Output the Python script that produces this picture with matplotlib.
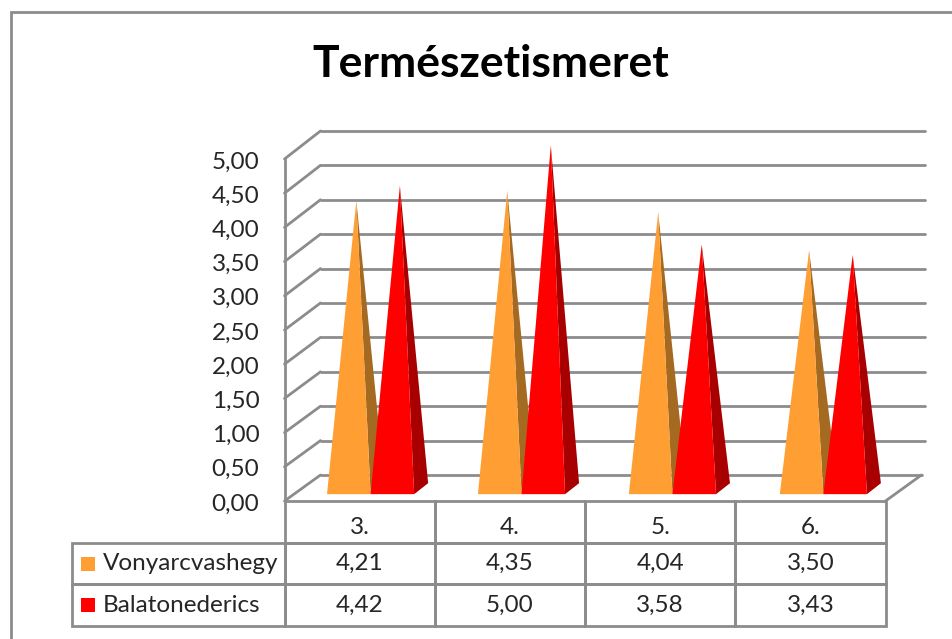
import matplotlib
matplotlib.use('Agg')
import matplotlib.pyplot as plt
from matplotlib.patches import Polygon, Rectangle
from matplotlib.transforms import ScaledTranslation

plt.rcParams['font.family'] = ['Lato', 'DejaVu Sans']

W, H = 952, 639

categories = ['3.', '4.', '5.', '6.']
series_names = ['Vonyarcvashegy', 'Balatonederics']
vonyarc = [4.21, 4.35, 4.04, 3.50]
balaton = [4.42, 5.00, 3.58, 3.43]
yticks = [0, 0.5, 1, 1.5, 2, 2.5, 3, 3.5, 4, 4.5, 5]

front_colors = ['#FF9F33', '#FF0000']
side_colors = ['#A56A22', '#A80000']
grey = '#8C8C8C'
text_col = '#262626'


def comma(v):
    return '{:.2f}'.format(v).replace('.', ',')


fig = plt.figure(figsize=(W / 100, H / 100), dpi=100, facecolor='white')

# outer frame, runs off the right and bottom of the picture
fig.add_artist(Rectangle((11 / W, -0.05), (W - 10) / W, (H - 12) / H + 0.05,
                         transform=fig.transFigure, fill=False,
                         edgecolor=grey, linewidth=2.0))

# axes = front plane of the 3D box, x in categories, y in values
left, right, top, bottom = 284.5, 885.5, 159, 501
ax = fig.add_axes([left / W, 1 - bottom / H, (right - left) / W, (bottom - top) / H])
ax.set_xlim(0, 4)
ax.set_ylim(0, 5)
for s in ax.spines.values():
    s.set_visible(False)
ax.patch.set_alpha(0)
ax.set_xticks([])
ax.set_yticks(yticks)
ax.set_yticklabels([comma(v) for v in yticks], fontsize=17.5, color=text_col)
ax.tick_params(axis='y', length=0, pad=18)
# nudge the tick labels down a pixel
for lab in ax.get_yticklabels():
    lab.set_transform(lab.get_transform() + ScaledTranslation(0, -1 / 100, fig.dpi_scale_trans))

# depth of the box in data units
depth_x = 36 / 150.25
floor_dy = 26 / 68.4
wall_k = 1.006

line_kw = dict(color=grey, lw=2.0, clip_on=False, solid_capstyle='round')
for v in yticks:
    yb = floor_dy + v * wall_k
    ax.plot([0, depth_x], [v, yb], zorder=1, **line_kw)
    ax.plot([depth_x, 4 + depth_x + (0.02 if v else 0)], [yb, yb], zorder=1, **line_kw)
ax.plot([0, 0], [0, 5], zorder=1, **line_kw)
ax.plot([4, 4 + depth_x], [0, floor_dy], zorder=1, **line_kw)

# pyramids
base_w = 0.29
base_y = 0.10
back_x = 0.093
back_y = 0.16
apex_dx = 0.195
height_k = 1.02
offsets = [0.283, 0.573]

for i in range(len(categories)):
    for j, vals in enumerate([vonyarc, balaton]):
        x0 = i * 1.0045 + offsets[j]
        x1 = x0 + base_w
        apex = (x0 + apex_dx, base_y + vals[i] * height_k)
        ax.add_patch(Polygon([(x1, base_y), (x1 + back_x, base_y + back_y), apex],
                             closed=True, facecolor=side_colors[j], edgecolor='none',
                             clip_on=False, zorder=2 + j))
        ax.add_patch(Polygon([(x0, base_y), (x1, base_y), apex],
                             closed=True, facecolor=front_colors[j], edgecolor='none',
                             clip_on=False, zorder=2 + j))

# data table under the plot
row_h = 41.7 / 68.4
label_w = 212.5 / 150.25
cell_text = [[''] * 5,
             [series_names[0]] + [comma(v) for v in vonyarc],
             [series_names[1]] + [comma(v) for v in balaton]]
x_to_axes = 1 / 4
y_to_axes = 1 / 5
tab = ax.table(cellText=cell_text,
               colWidths=[label_w * x_to_axes] + [x_to_axes] * 4,
               bbox=[-label_w * x_to_axes, -3 * row_h * y_to_axes,
                     1 + label_w * x_to_axes, 3 * row_h * y_to_axes],
               cellLoc='center')
tab.auto_set_font_size(False)
tab.set_fontsize(17.5)
for (r, c), cell in tab.get_celld().items():
    cell.set_edgecolor(grey)
    cell.set_linewidth(2.0)
    cell.set_facecolor('none')
    cell.get_text().set_color(text_col)
    cell.set_clip_on(False)
    if c == 0:
        cell.get_text().set_ha('left')
        cell.PAD = 31 / 213
    if r == 0 and c == 0:
        cell.visible_edges = ''

# category labels sit low in their row
for i, cat in enumerate(categories):
    ax.text(i + 0.5, -27 / 68.4, cat, fontsize=17.5, color=text_col,
            ha='center', va='center', clip_on=False)

# legend keys inside the table
for k, color in enumerate(front_colors):
    ax.add_patch(Rectangle((-204 / 150.25, -(69.5 + k * 41.5) / 68.4),
                           14 / 150.25, 14 / 68.4, facecolor=color, edgecolor='none',
                           clip_on=False, zorder=5))

fig.text(491 / W, 1 - 64 / H, 'Természetismeret', fontsize=32, fontweight='bold',
         color='black', ha='center', va='center')

plt.savefig('out.png', dpi=100)
plt.close()
